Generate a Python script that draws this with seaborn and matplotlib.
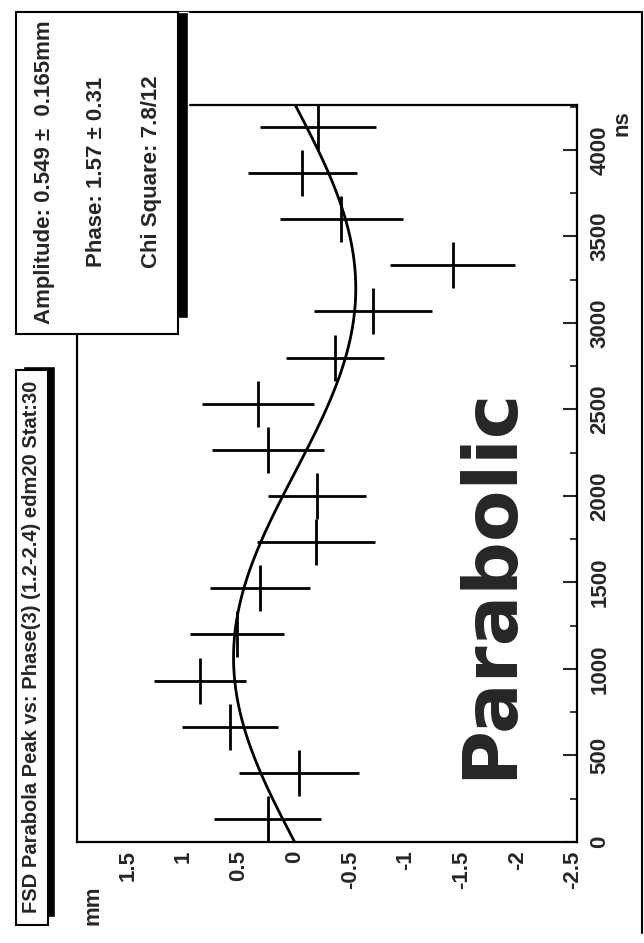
import numpy as np
import seaborn as sns
import matplotlib.pyplot as plt
from matplotlib.patches import Rectangle
from matplotlib.lines import Line2D

# bin centres (ns) and measured peak shift (mm), lowest ns first
ns_centers = [133, 400, 667, 933, 1200, 1467, 1733, 2000,
              2267, 2533, 2800, 3067, 3333, 3600, 3867, 4133]
ns_halfwidth = 133
mm_values = [0.24, -0.04, 0.58, 0.85, 0.52, 0.31, -0.19, -0.20,
             0.24, 0.33, -0.36, -0.70, -1.42, -0.42, -0.07, -0.21]
mm_errors = [0.48, 0.54, 0.43, 0.41, 0.42, 0.45, 0.53, 0.44,
             0.50, 0.50, 0.44, 0.53, 0.56, 0.55, 0.49, 0.52]

# fit result shown in the stats box
fit_amplitude = 0.549
fit_phase = 1.57
fit_period = 4267

mm_ticks = [1.5, 1, 0.5, 0, -0.5, -1, -1.5, -2, -2.5]
mm_ticklabels = ['1.5', '1', '0.5', '0', '-0.5', '-1', '-1.5', '-2', '-2.5']
ns_ticks = [0, 500, 1000, 1500, 2000, 2500, 3000, 3500, 4000]
ns_ticklabels = [str(t) for t in ns_ticks]

title = 'FSD Parabola Peak vs: Phase(3) (1.2-2.4) edm20 Stat:30'
stats = ['Amplitude: 0.549 \u00b1  0.165mm', 'Phase: 1.57 \u00b1 0.31', 'Chi Square: 7.8/12']

sns.set_style('white')
plt.rcParams['font.family'] = ['Liberation Sans', 'DejaVu Sans']

W, H = 644, 943
def fx(x):
    return x / W
def fy(y):
    return 1 - y / H

fig = plt.figure(figsize=(W / 100, H / 100), dpi=100)
ax = fig.add_axes([fx(77), fy(842), (577 - 77) / W, (842 - 105) / H])

# fit curve (page is rotated: mm runs horizontally, ns vertically)
t = np.linspace(0, 4260, 300)
fit_mm = fit_amplitude * np.cos(2 * np.pi * t / fit_period - fit_phase)
sns.lineplot(x=fit_mm, y=t, sort=False, estimator=None, orient='y',
             color='black', lw=2.0, ax=ax)

ax.errorbar(mm_values, ns_centers, xerr=mm_errors, yerr=ns_halfwidth,
            fmt='none', ecolor='black', elinewidth=2.0, capsize=0)

ax.set_xlim(1.955, -2.536)
ax.set_ylim(0, 4260)
ax.set_xticks(mm_ticks, mm_ticklabels)
ax.set_xticks(np.arange(-2.5, 1.96, 0.1), minor=True)
ax.yaxis.tick_right()
ax.set_yticks(ns_ticks, ns_ticklabels)
ax.set_yticks(np.arange(0, 4260, 250), minor=True)

ax.tick_params(axis='x', which='major', direction='in', length=16, width=1.5,
               pad=6, labelsize=16, labelrotation=90)
ax.tick_params(axis='x', which='minor', direction='in', length=7, width=1.3)
ax.tick_params(axis='y', which='major', direction='in', length=10, width=1.5,
               pad=9, labelsize=16, right=True, left=False)
ax.tick_params(axis='y', which='minor', direction='in', length=5, width=1.3,
               right=True, left=False)
for lab in ax.get_xticklabels() + ax.get_yticklabels():
    lab.set_fontweight('bold')
for lab in ax.get_yticklabels():
    lab.set_rotation(90)
    lab.set_va('center')
for s in ax.spines.values():
    s.set_linewidth(1.6)
    s.set_color('black')
ax.set_xlabel('')
ax.set_ylabel('')

# outer frame (top and right)
fig.add_artist(Line2D([fx(16), fx(642)], [fy(12), fy(12)], color='black', lw=1.5))
fig.add_artist(Line2D([fx(642), fx(642)], [fy(12), fy(933)], color='black', lw=1.5))

# stats box with shadow
fig.add_artist(Rectangle((fx(26), fy(318)), fx(188) - fx(26), fy(12) - fy(318),
                         transform=fig.transFigure, facecolor='black', zorder=4))
fig.add_artist(Rectangle((fx(16), fy(334)), fx(178) - fx(16), fy(12) - fy(334),
                         transform=fig.transFigure, facecolor='white',
                         edgecolor='black', lw=1.5, zorder=5))
for xc, txt in zip([45, 97, 152], stats):
    fig.text(fx(xc), fy(172), txt, rotation=90, ha='center', va='center',
             fontsize=16, fontweight='bold', zorder=6)

# title box with shadow
fig.add_artist(Rectangle((fx(23), fy(917)), fx(55) - fx(23), fy(366) - fy(917),
                         transform=fig.transFigure, facecolor='black', zorder=4))
fig.add_artist(Rectangle((fx(16), fy(925)), fx(48) - fx(16), fy(370) - fy(925),
                         transform=fig.transFigure, facecolor='white',
                         edgecolor='black', lw=1.5, zorder=5))
fig.text(fx(32), fy(647), title, rotation=90, ha='center', va='center',
         fontsize=14.5, fontweight='bold', zorder=6)

# axis units
fig.text(fx(93), fy(905), 'mm', rotation=90, ha='center', va='center',
         fontsize=16, fontweight='bold')
fig.text(fx(622), fy(123), 'ns', rotation=90, ha='center', va='center',
         fontsize=16, fontweight='bold')

# handwritten note
fig.text(fx(491), fy(583), 'Parabolic', rotation=90, ha='center', va='center',
         fontsize=54, fontweight='bold', family='DejaVu Sans')

fig.savefig('out.png', dpi=100)
